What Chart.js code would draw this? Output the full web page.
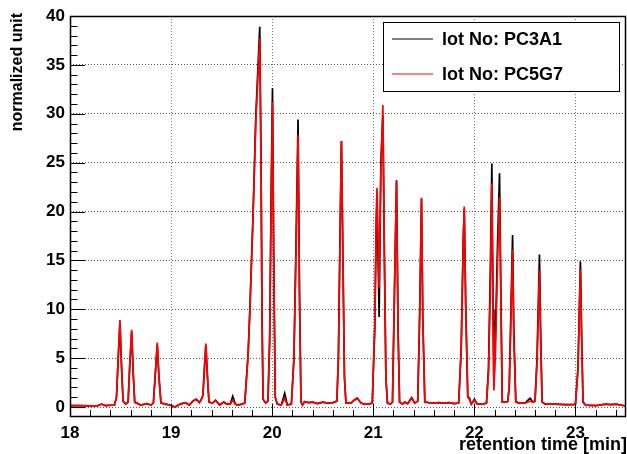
<!DOCTYPE html>
<html>
<head>
<meta charset="utf-8">
<script src="https://cdn.jsdelivr.net/npm/chart.js@4.4.1/dist/chart.umd.min.js"></script>
<style>
  html, body { margin: 0; padding: 0; background: #fff; }
  canvas { display: block; }
</style>
</head>
<body>
<canvas id="chart" width="627" height="454"></canvas>
<script>
// --- Data ---
const times = [
  18.00, 18.10, 18.20, 18.28, 18.31, 18.35, 18.44,
  18.46, 18.475, 18.494, 18.51, 18.525, 18.55,
  18.575, 18.59, 18.61, 18.625, 18.64, 18.70, 18.76, 18.80,
  18.825, 18.845, 18.863, 18.88, 18.90, 18.95,
  19.00, 19.04, 19.09, 19.14, 19.18, 19.22, 19.25, 19.28, 19.30,
  19.315, 19.33, 19.344, 19.36, 19.375,
  19.41, 19.44, 19.48, 19.52, 19.55, 19.585, 19.61, 19.635, 19.66, 19.70,
  19.729, 19.762, 19.779, 19.811, 19.838, 19.877, 19.89, 19.90, 19.91, 19.935,
  19.958, 19.975, 19.99, 20.003, 20.015, 20.03, 20.05,
  20.09, 20.124, 20.15,
  20.19, 20.215, 20.238, 20.256, 20.27, 20.285,
  20.30, 20.32, 20.36, 20.40, 20.45, 20.50, 20.55, 20.60,
  20.64, 20.655, 20.672, 20.685, 20.70, 20.715, 20.73,
  20.78, 20.81, 20.84, 20.88, 20.91, 20.95,
  20.99, 21.015, 21.03, 21.037, 21.048, 21.058, 21.075, 21.095, 21.11, 21.125, 21.14,
  21.17, 21.19, 21.21, 21.23, 21.245, 21.26,
  21.29, 21.31, 21.34, 21.38, 21.41,
  21.44, 21.46, 21.477, 21.49, 21.51,
  21.55, 21.60, 21.65, 21.70, 21.75, 21.80,
  21.845, 21.87, 21.89, 21.90, 21.915, 21.935,
  21.95, 21.97, 22.00, 22.03, 22.06, 22.10,
  22.12, 22.14, 22.158, 22.173, 22.185, 22.193, 22.21, 22.23, 22.249, 22.262, 22.276,
  22.30, 22.33,
  22.345, 22.362, 22.378, 22.39, 22.41,
  22.45, 22.50, 22.55, 22.58,
  22.60, 22.62, 22.644, 22.655, 22.67,
  22.70, 22.80, 22.90, 22.98,
  23.00, 23.025, 23.049, 23.06, 23.075,
  23.10, 23.20, 23.30, 23.35, 23.40, 23.50
];

// lot No: PC3A1 (black)
const lotA = [
  0.15, 0.15, 0.12, 0.15, 0.30, 0.15, 0.20,
  1.0, 4.5, 8.6, 4.0, 0.6, 0.3,
  0.5, 4.0, 7.7, 3.5, 0.5, 0.2, 0.35, 0.2,
  0.4, 3.5, 6.4, 3.0, 0.4, 0.3,
  0.15, 0.0, 0.3, 0.45, 0.2, 0.65, 0.8, 0.45, 0.8,
  1.2, 4.0, 6.3, 3.0, 0.5,
  0.4, 0.7, 0.2, 0.5, 0.3, 0.3, 1.1, 0.3, 0.2, 0.3,
  0.4, 5.5, 9.9, 19.8, 29.7, 38.9, 25, 9, 0.8, 0.4,
  0.6, 7, 22, 32.6, 16, 1, 0.3,
  0.2, 1.4, 0.2,
  0.3, 5, 18, 29.4, 12, 0.5,
  0.2, 0.55, 0.45, 0.5, 0.35, 0.5, 0.4, 0.45,
  0.6, 5, 18, 27.2, 15, 3, 0.4,
  0.4, 0.7, 0.9, 0.4, 0.3, 0.3,
  0.4, 8, 19, 20.9, 15, 9.2, 25, 29.8, 15, 3, 0.4,
  0.3, 0.5, 12, 23.2, 8, 0.5,
  0.3, 0.5, 0.35, 0.95, 0.4,
  0.6, 10, 21.3, 9, 0.5,
  0.45, 0.4, 0.45, 0.4, 0.45, 0.35,
  0.4, 6, 17, 20.3, 10, 1,
  0.95, 0.3, 0.8, 0.3, 0.3, 0.35,
  0.4, 4, 14, 24.9, 10, 2.5, 8, 17, 23.9, 12, 0.5,
  0.5, 0.55,
  2, 10, 17.6, 8, 0.5,
  0.4, 0.4, 0.9, 0.5,
  0.6, 5, 15.6, 8, 0.5,
  0.3, 0.3, 0.25, 0.25,
  0.3, 4, 14.9, 8, 0.5,
  0.2, 0.15, 0.3, 0.25, 0.3, 0.1
];

// lot No: PC5G7 (red)
const lotB = [
  0.15, 0.15, 0.12, 0.15, 0.30, 0.15, 0.20,
  1.0, 4.7, 8.9, 4.2, 0.6, 0.3,
  0.5, 4.1, 7.9, 3.6, 0.5, 0.2, 0.35, 0.2,
  0.4, 3.6, 6.6, 3.1, 0.4, 0.3,
  0.15, 0.0, 0.3, 0.45, 0.2, 0.65, 0.8, 0.45, 0.8,
  1.2, 4.1, 6.5, 3.1, 0.5,
  0.4, 0.7, 0.2, 0.5, 0.3, 0.3, 0.7, 0.3, 0.2, 0.3,
  0.4, 5.3, 9.7, 19.5, 29.2, 37.7, 24, 8.5, 0.8, 0.4,
  0.6, 6.5, 21, 31.2, 15, 1, 0.3,
  0.2, 0.9, 0.2,
  0.3, 4.8, 17, 27.8, 11, 0.5,
  0.2, 0.55, 0.45, 0.5, 0.35, 0.5, 0.4, 0.45,
  0.6, 5, 18, 27.2, 15, 3, 0.4,
  0.4, 0.7, 0.9, 0.4, 0.3, 0.3,
  0.4, 8.5, 20, 22.4, 17, 12.2, 24, 30.9, 16, 3, 0.4,
  0.3, 0.5, 12, 23.1, 8, 0.5,
  0.3, 0.5, 0.35, 0.9, 0.4,
  0.6, 10, 21.4, 9, 0.5,
  0.45, 0.4, 0.45, 0.4, 0.45, 0.35,
  0.4, 6, 17, 20.5, 10, 1,
  0.8, 0.3, 0.7, 0.3, 0.3, 0.35,
  0.4, 3.5, 12, 22.9, 8, 1.7, 6, 15, 21.5, 11, 0.5,
  0.5, 0.55,
  2, 9, 16.1, 7, 0.5,
  0.4, 0.4, 0.6, 0.5,
  0.6, 4.5, 14.0, 7, 0.5,
  0.3, 0.3, 0.25, 0.25,
  0.3, 3.8, 14.1, 7.5, 0.5,
  0.2, 0.15, 0.3, 0.25, 0.3, 0.1
];

const xTicks = [18, 19, 20, 21, 22, 23];
const yTicks = [0, 5, 10, 15, 20, 25, 30, 35, 40];

const FONT = '"Liberation Sans", Arial, sans-serif';

// --- frame, inner tick marks, axis titles and boxed legend ---
const rootStyle = {
  id: 'rootStyle',
  afterDatasetsDraw(chart) {
    const { ctx, chartArea: a, scales: { x, y } } = chart;
    ctx.save();
    ctx.strokeStyle = '#000';
    ctx.lineWidth = 1;

    // tick marks drawn inside the frame
    ctx.beginPath();
    for (let v = 18; v <= 23.5 + 1e-9; v += 0.2) {
      const px = Math.round(x.getPixelForValue(v)) + 0.5;
      const major = Math.abs(v - Math.round(v)) < 1e-6;
      ctx.moveTo(px, a.bottom);
      ctx.lineTo(px, a.bottom - (major ? 12 : 6));
    }
    for (let v = 0; v <= 40; v += 1) {
      const py = Math.round(y.getPixelForValue(v)) + 0.5;
      ctx.moveTo(a.left, py);
      ctx.lineTo(a.left + (v % 5 === 0 ? 15 : 7.5), py);
    }
    ctx.stroke();

    // frame
    ctx.lineWidth = 1.5;
    ctx.strokeRect(a.left + 0.5, a.top + 0.5, a.right - a.left - 1, a.bottom - a.top);

    // axis titles
    ctx.fillStyle = '#000';
    ctx.font = 'bold 18px ' + FONT;
    ctx.textAlign = 'right';
    ctx.textBaseline = 'alphabetic';
    ctx.fillText('retention time [min]', 627, 450);

    ctx.save();
    ctx.translate(18, 13);
    ctx.rotate(-Math.PI / 2);
    ctx.font = 'bold 16px ' + FONT;
    ctx.textAlign = 'right';
    ctx.textBaseline = 'middle';
    ctx.fillText('normalized unit', 0, 0);
    ctx.restore();

    // legend box
    const bx = 383, by = 22, bw = 236, bh = 69;
    ctx.fillStyle = '#fff';
    ctx.fillRect(bx, by, bw, bh);
    ctx.lineWidth = 1;
    ctx.strokeRect(bx + 0.5, by + 0.5, bw, bh);
    const entries = chart.data.datasets.slice().reverse();
    ctx.font = 'bold 18px ' + FONT;
    ctx.textAlign = 'left';
    ctx.textBaseline = 'middle';
    entries.forEach((ds, i) => {
      const ly = by + 17 + i * 35;
      ctx.strokeStyle = ds.borderColor;
      ctx.lineWidth = 1.2;
      ctx.beginPath();
      ctx.moveTo(392, ly);
      ctx.lineTo(433, ly);
      ctx.stroke();
      ctx.fillStyle = '#000';
      ctx.fillText(ds.label, 442, ly + 1);
    });
    ctx.restore();
  }
};

const points = vals => times.map((t, i) => ({ x: t, y: vals[i] }));

new Chart(document.getElementById('chart'), {
  type: 'line',
  data: {
    datasets: [
      { label: 'lot No: PC5G7', data: points(lotB), borderColor: '#ff0000', borderWidth: 1.7, pointRadius: 0, tension: 0 },
      { label: 'lot No: PC3A1', data: points(lotA), borderColor: '#000000', borderWidth: 1.7, pointRadius: 0, tension: 0 }
    ]
  },
  plugins: [rootStyle],
  options: {
    responsive: false,
    animation: false,
    layout: { padding: { top: 16, right: 1, left: 0, bottom: 0 } },
    plugins: { legend: { display: false }, tooltip: { enabled: false } },
    scales: {
      x: {
        type: 'linear',
        min: 18,
        max: 23.5,
        afterBuildTicks: s => { s.ticks = xTicks.map(v => ({ value: v })); },
        afterFit: s => { s.height = 38; },
        ticks: { color: '#000', font: { family: FONT, size: 17, weight: 'bold' }, padding: 7, maxRotation: 0 },
        grid: {
          drawTicks: false,
          color: ctx => (ctx.tick && ctx.tick.value === 18 ? 'rgba(0,0,0,0)' : '#777')
        },
        border: { display: false, dash: [1, 2] }
      },
      y: {
        type: 'linear',
        min: -0.92,
        max: 40,
        afterBuildTicks: s => { s.ticks = yTicks.map(v => ({ value: v })); },
        afterFit: s => { s.width = 70; },
        ticks: { color: '#000', font: { family: FONT, size: 17, weight: 'bold' }, padding: 5 },
        grid: {
          drawTicks: false,
          color: ctx => (ctx.tick && ctx.tick.value === 40 ? 'rgba(0,0,0,0)' : '#555')
        },
        border: { display: false, dash: [1, 2] }
      }
    }
  }
});
</script>
</body>
</html>
